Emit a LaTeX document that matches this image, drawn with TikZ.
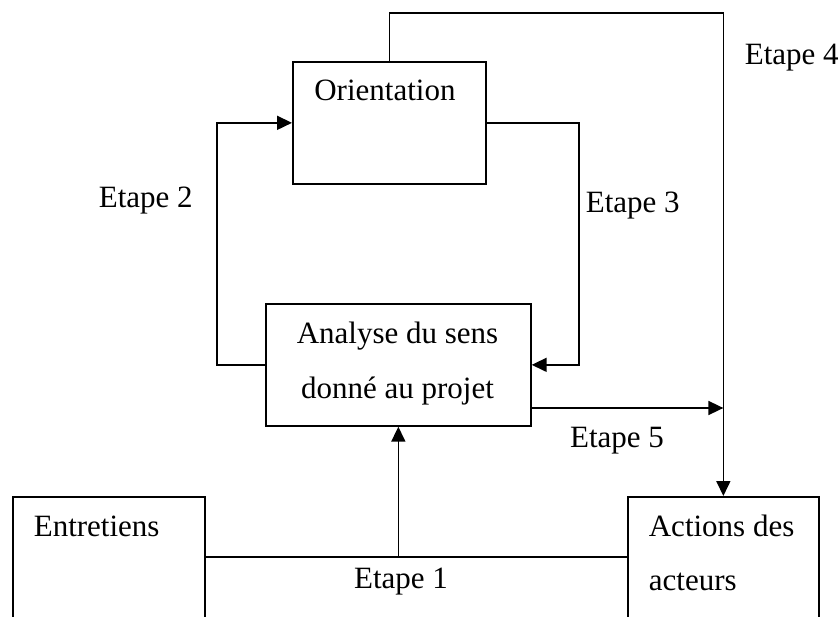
\documentclass[tikz,border=0pt]{standalone}
\usepackage{fontspec}
\setmainfont{Liberation Serif}
\usetikzlibrary{arrows.meta}
\begin{document}
\begin{tikzpicture}[x=1pt,y=-1pt,line width=1.7pt,
  >={Triangle[length=15pt,width=14pt]},
  box/.style={draw,inner sep=0pt,anchor=north west},
  lbl/.style={font=\fontsize{31}{37}\selectfont,inner sep=0pt}]
\useasboundingbox (0,0) rectangle (840,617);
\clip (0,0) rectangle (840,617);
% boxes
\node[box,minimum width=193pt,minimum height=122pt] (ori) at (292,61) {};
\node[box,minimum width=265pt,minimum height=122pt] (ana) at (265,303) {};
\node[box,minimum width=192pt,minimum height=160pt] (ent) at (12,496) {};
\node[box,minimum width=191pt,minimum height=160pt] (act) at (627,496) {};
% box texts
\node[lbl,anchor=base west] (tori) at (313.5,101) {Orientation};
\node[lbl,anchor=base] (tana1) at (397.5,343) {Analyse du sens};
\node[lbl,anchor=base] (tana2) at (397.5,398) {donné au projet};
\node[lbl,anchor=base west] (tent) at (33,536) {Entretiens};
\node[lbl,anchor=base west] (tact1) at (648,536) {Actions des};
\node[lbl,anchor=base west] (tact2) at (648,590) {acteurs};
% helper coordinates
\coordinate (top) at (0,13);
\coordinate (l2) at (217,0);
\coordinate (r3) at (579,0);
\coordinate (e5) at (0,408);
\coordinate (h1) at (0,557);
% connectors
\draw[->] (ori.north) |- (top -| act.north) -- (act.north);
\draw[->] (ana.west) -- (ana.west -| l2) |- (ori.west);
\draw[->] (ori.east) -- (ori.east -| r3) |- (ana.east);
\draw[->] (e5 -| ana.east) -- (e5 -| act.north);
\draw (h1 -| ent.east) -- (h1 -| act.west);
\draw[->] (h1 -| ana.south) -- (ana.south);
% step labels
\node[lbl,anchor=base west] (s4) at (744,65) {Etape 4};
\node[lbl,anchor=base west] (s2) at (98,208) {Etape 2};
\node[lbl,anchor=base west] (s3) at (585,213) {Etape 3};
\node[lbl,anchor=base] (s5) at (617,447) {Etape 5};
\node[lbl,anchor=base] (s1) at (401,588) {Etape 1};
\end{tikzpicture}
\end{document}
